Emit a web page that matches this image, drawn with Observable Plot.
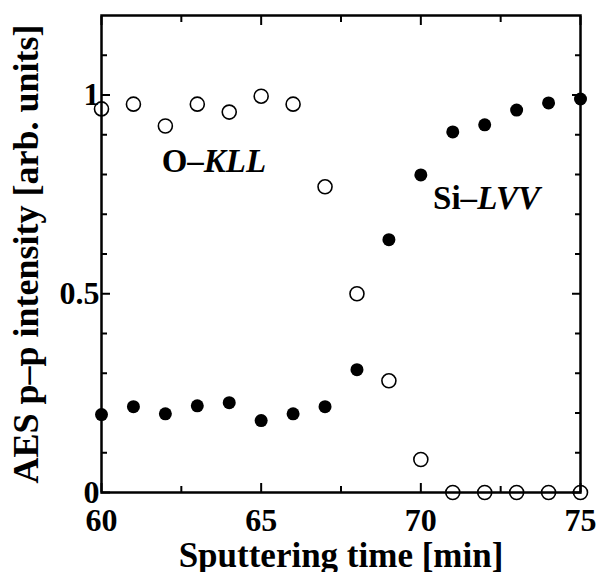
<!DOCTYPE html>
<html>
<head>
<meta charset="utf-8">
<script src="https://cdn.jsdelivr.net/npm/d3@7"></script>
<script src="https://cdn.jsdelivr.net/npm/@observablehq/plot@0.6"></script>
<style>
  html, body { margin: 0; padding: 0; background: #fff; }
  svg { display: block; }
</style>
</head>
<body>
<div id="chart"></div>
<script>
const time = [60, 61, 62, 63, 64, 65, 66, 67, 68, 69, 70, 71, 72, 73, 74, 75];
const oKLL = [0.965, 0.977, 0.922, 0.977, 0.957, 0.997, 0.977, 0.769, 0.500, 0.281, 0.083, 0, 0, 0, 0, 0];
const siLVV = [0.196, 0.216, 0.198, 0.218, 0.226, 0.181, 0.198, 0.216, 0.309, 0.636, 0.799, 0.907, 0.925, 0.962, 0.980, 0.990];
const xMajor = [60, 65, 70, 75];
const xMinor = [62.5, 67.5, 72.5];
const yMajor = [0, 0.5, 1];
const yMinor = [0.1, 0.2, 0.3, 0.4, 0.6, 0.7, 0.8, 0.9, 1.1];
const xLabel = "Sputtering time [min]";
const yLabel = "AES p\u2013p intensity [arb. units]";
const annotations = [
  {x: 61.9, y: 0.804, pre: "O\u2013", it: "KLL"},
  {x: 70.4, y: 0.711, pre: "Si\u2013", it: "LVV"}
];

const openData = time.map((t, i) => ({t, v: oKLL[i]}));
const fillData = time.map((t, i) => ({t, v: siLVV[i]}));

const font = "'Liberation Serif', 'Times New Roman', serif";

const chart = Plot.plot({
  width: 598,
  height: 572,
  marginLeft: 101,
  marginRight: 18,
  marginTop: 15,
  marginBottom: 80,
  style: {fontFamily: font, fontWeight: "bold", fontSize: "32px", color: "#000", background: "#fff"},
  x: {domain: [60, 75], axis: null},
  y: {domain: [0, 1.2], axis: null},
  marks: [
    // inward ticks, bottom & top
    Plot.axisX({anchor: "bottom", ticks: xMajor, tickSize: -9, tickFormat: () => "", label: null, strokeWidth: 2}),
    Plot.axisX({anchor: "bottom", ticks: xMinor, tickSize: -6, tickFormat: () => "", label: null, strokeWidth: 2}),
    Plot.axisX({anchor: "top", ticks: xMajor, tickSize: -9, tickFormat: () => "", label: null, strokeWidth: 2}),
    Plot.axisX({anchor: "top", ticks: xMinor, tickSize: -6, tickFormat: () => "", label: null, strokeWidth: 2}),
    Plot.axisY({anchor: "left", ticks: yMajor, tickSize: -9, tickFormat: () => "", label: null, strokeWidth: 2}),
    Plot.axisY({anchor: "left", ticks: yMinor, tickSize: -6, tickFormat: () => "", label: null, strokeWidth: 2}),
    Plot.axisY({anchor: "right", ticks: yMajor, tickSize: -9, tickFormat: () => "", label: null, strokeWidth: 2}),
    Plot.axisY({anchor: "right", ticks: yMinor, tickSize: -6, tickFormat: () => "", label: null, strokeWidth: 2}),
    // tick labels
    Plot.axisX({anchor: "bottom", ticks: xMajor, tickSize: 0, tickPadding: 16, tickFormat: d => String(d), label: null, fontSize: 32}),
    Plot.axisY({anchor: "left", ticks: yMajor, tickSize: 0, tickPadding: 2, tickFormat: d => String(d), label: null, fontSize: 32}),
    Plot.frame({stroke: "#000", strokeWidth: 2.5}),
    // data
    Plot.dot(fillData, {x: "t", y: "v", r: 6.5, fill: "#000", stroke: "none"}),
    Plot.dot(openData, {x: "t", y: "v", r: 7, fill: "none", stroke: "#000", strokeWidth: 1.6}),
    // axis titles
    Plot.text([xLabel], {frameAnchor: "bottom", dy: 74, lineAnchor: "bottom", fontSize: 35, textAnchor: "middle", text: d => d}),
    Plot.text([yLabel], {frameAnchor: "left", dx: -64, rotate: -90, lineAnchor: "bottom", fontSize: 36, textAnchor: "middle", text: d => d})
  ]
});

// annotation labels with italic part (tspan)
document.getElementById("chart").appendChild(chart);
const svg = d3.select(chart);
const xs = (v) => chart.scale("x").apply(v);
const ys = (v) => chart.scale("y").apply(v);
annotations.forEach(a => {
  const t = svg.append("text")
    .attr("x", xs(a.x)).attr("y", ys(a.y))
    .attr("text-anchor", "start")
    .attr("font-family", font).attr("font-weight", "bold").attr("font-size", 33)
    .attr("fill", "#000");
  t.append("tspan").text(a.pre);
  t.append("tspan").attr("font-style", "italic").text(a.it);
});
</script>
</body>
</html>
